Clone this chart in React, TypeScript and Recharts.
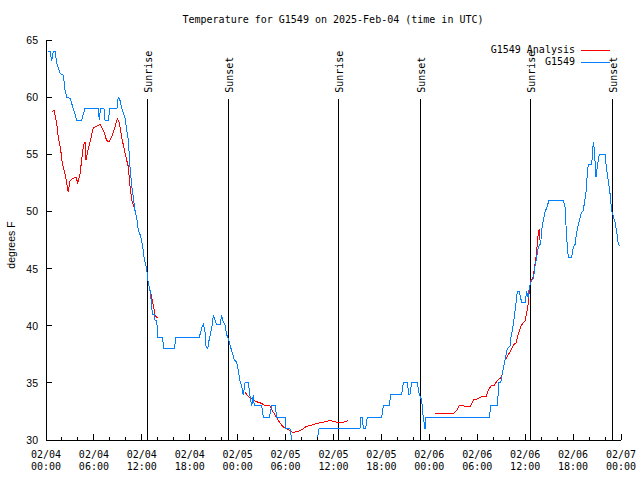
import { LineChart, Line, XAxis, YAxis, ReferenceLine, Legend, Customized } from 'recharts';

const MONO = '"DejaVu Sans Mono", "Liberation Mono", monospace';
const SANS = '"Liberation Sans", Arial, sans-serif';

// hours since 2025-02-04 00:00 UTC
const blueHours = [
  0.29, 0.5, 0.71, 0.91, 1.13, 1.34, 1.75, 2.17, 2.38, 2.59, 3.01, 3.42, 3.84, 4.47, 4.88, 6.55, 6.67, 6.82,
  7.26, 7.39, 7.8, 8.01, 8.89, 9.05, 9.27, 9.48, 9.89, 10.31, 10.52, 10.73, 10.93, 11.14, 11.36, 11.56, 11.86,
  12.11, 12.27, 12.52, 12.68, 12.81, 13.02, 13.24, 13.31, 13.56, 13.65, 13.86, 13.94, 13.99, 14.56, 14.78,
  16.07, 16.28, 19.2, 19.5, 19.7, 19.91, 20.04, 20.25, 20.41, 20.75, 20.95, 21.16, 21.38, 21.79, 22.0, 22.2,
  22.41, 22.63, 22.83, 23.17, 23.45, 23.58, 23.88, 24.08, 24.29, 24.51, 24.71, 24.92, 25.33, 25.54, 25.76,
  25.96, 26.08, 27.01, 27.21, 27.96, 28.26, 28.68, 28.89, 29.93, 30.05, 30.55, 30.77, 30.93, 33.93, 34.1,
  34.22, 39.32, 39.41, 39.61, 39.73, 40.03, 40.23, 42.04, 42.24, 42.99, 43.16, 44.54, 44.74, 45.24, 45.45,
  45.58, 45.79, 46.49, 46.74, 47.04, 47.25, 47.46, 47.58, 55.51, 55.69, 56.51, 56.72, 56.94, 57.19, 57.48,
  57.76, 58.1, 58.23, 58.52, 58.64, 58.85, 59.02, 59.27, 59.57, 59.98, 60.19, 60.39, 60.52, 60.69, 60.82,
  61.02, 61.23, 61.44, 61.65, 61.95, 62.07, 62.27, 62.49, 62.7, 62.99, 64.78, 64.99, 65.12, 65.28, 65.4,
  65.83, 66.03, 66.24, 66.46, 66.74, 66.99, 67.28, 67.62, 67.78, 67.91, 68.33, 68.46, 68.53, 68.66, 68.87,
  69.03, 69.29, 70.0, 70.21, 70.41, 70.62, 70.84, 71.25, 71.46, 71.67, 71.88,
];
const blueTemps = [
  64, 64, 63.2, 64, 64, 63, 62.1, 61.9, 60.6, 60, 59.9, 59, 58, 58, 59, 59, 58, 59,
  59, 58, 58, 59, 59, 60, 59.7, 59, 58.2, 56.2, 53.9, 52.2, 51.3, 50.1, 49.4, 48.4, 47.8,
  46.9, 46, 45.2, 44.6, 43.7, 43.1, 41.8, 41, 41, 40.5, 40.5, 39.6, 39, 39, 38,
  38, 39, 39, 39.8, 40.1, 39.5, 38.2, 38, 38.7, 39.8, 40.9, 40.5, 40.1, 40.1, 40.9, 40.3,
  40.1, 39.2, 38.9, 38, 37.4, 37, 36.8, 36.1, 35.2, 34.7, 33.9, 35, 35, 33.9, 33,
  33.9, 33, 33, 32, 32, 33, 33, 32, 32, 31, 31, 30.1, 29, 29, 30.9,
  31, 31, 32, 32, 31, 31, 32, 32, 33, 33, 34, 34, 35, 35, 34,
  34, 35, 35, 34, 33.5, 31.9, 31, 32, 32, 33, 33, 35, 35, 36, 37,
  38, 38.2, 39, 40.1, 40.8, 42, 43, 43, 42, 42, 43, 42.4, 43.4, 43.7, 44,
  44.1, 45.2, 46, 46.9, 47.2, 48.4, 49.2, 50, 50.3, 51, 51, 50.4, 48.7, 46.9, 46,
  46, 46.9, 47.1, 48.2, 49.1, 49.8, 50.1, 51.7, 53.3, 54.1, 54.1, 55.4, 56.1, 55.4, 53,
  53.9, 55, 55, 53.6, 52.7, 51.6, 50, 49.1, 48.2, 47.1, 47,
];

// analysis series, null = gap
const redHours = [
  0.79, 1.0, 1.34, 1.54, 1.84, 2.04, 2.38, 2.79, 3.01, 3.42, 3.76, 3.97, 4.26, 4.47, 4.67, 4.88, 5.01, 5.3,
  5.72, 5.92, 6.76, 7.18, 7.6, 7.89, 8.23, 8.64, 8.93, 9.18, 9.48, 9.89, 10.31, 10.52, 10.73, 11.14, 11.36,
  11.56, 11.86, 12.11, 12.27, 12.52, 12.68, 12.81, 13.02, 13.24, 13.44, 13.65, 13.94,
  19.0,
  24.92, 25.33, 25.76, 26.17, 26.58, 27.01, 27.42, 28.05, 28.39, 28.68, 29.09, 29.51, 29.8, 30.34, 30.77,
  31.18, 31.81, 32.22, 32.64, 33.27, 33.68, 34.31, 34.94, 35.56, 36.19, 36.6, 37.03, 37.44, 37.85,
  43.0,
  48.71, 51.0, 51.43, 51.75, 52.25, 52.68, 53.09, 53.51, 54.01, 54.56, 55.1, 55.39, 55.81, 56.14, 56.51,
  56.85, 57.06, 57.27, 57.48, 57.76, 58.1, 58.52, 58.85, 59.14, 59.44, 59.69, 59.98, 60.19, 60.39, 60.52,
  60.69, 60.95, 61.15, 61.36, 61.52, 61.65, 61.77, 61.86, 61.98,
];
const redTemps = [
  58.7, 58.9, 57.7, 56.5, 55.4, 54.2, 53.3, 51.7, 52.7, 52.9, 53.0, 52.5, 53.3, 54.5, 55.7, 56.1, 54.5, 55.5,
  56.7, 57.3, 57.6, 57.1, 56.2, 56.1, 56.5, 57.4, 58.1, 57.8, 56.5, 55.1, 53.9, 52.2, 51.0, 50.1, 49.4,
  48.4, 47.8, 46.9, 46.0, 45.2, 44.6, 43.7, 43.1, 42.5, 41.8, 40.9, 40.7,
  null,
  34.2, 33.8, 33.6, 33.4, 33.3, 33.2, 33.0, 33.0, 32.5, 32.2, 31.7, 31.3, 31.1, 30.9, 30.7,
  30.7, 30.8, 31.0, 31.2, 31.3, 31.4, 31.5, 31.6, 31.7, 31.6, 31.5, 31.5, 31.6, 31.7,
  null,
  32.3, 32.3, 32.6, 33.0, 33.0, 32.9, 32.9, 33.5, 33.6, 33.8, 33.8, 34.4, 34.8, 34.8, 35.2,
  35.4, 35.5, 36.3, 37.0, 37.3, 37.7, 38.3, 38.5, 39.3, 39.9, 40.2, 40.4, 41.1, 42.0, 43.1,
  44.0, 44.1, 45.0, 46.0, 47.2, 48.1, 48.5, 47.5, 47.2,
];

const sunHours = [12.68, 22.83, 36.6, 46.87, 60.63, 70.91];
const sunLabels = ['Sunrise', 'Sunset', 'Sunrise', 'Sunset', 'Sunrise', 'Sunset'];

const xTicks = [0, 2, 4, 6, 8, 10, 12, 14, 16, 18, 20, 22, 24, 26, 28, 30, 32, 34, 36, 38, 40, 42, 44, 46, 48, 50, 52, 54, 56, 58, 60, 62, 64, 66, 68, 70, 72];
const yTicks = [30, 35, 40, 45, 50, 55, 60, 65];

const seriesNames = ['G1549 Analysis', 'G1549'];
const seriesColors = ['#ff0000', '#0080ff'];

const blueData = blueHours.map((h, i) => ({ h, t: blueTemps[i] }));
const redData = redHours.map((h, i) => ({ h, t: redTemps[i] }));

const pad = (n: number) => String(n).padStart(2, '0');
const dateLabel = (h: number) => `02/${pad(4 + Math.floor(h / 24))}`;
const timeLabel = (h: number) => `${pad(h % 24)}:00`;

function BottomTick({ x, y, payload }: any) {
  const h = payload.value as number;
  const major = h % 6 === 0;
  return (
    <g>
      <line x1={x} y1={y} x2={x} y2={y - (major ? 6 : 3)} stroke="#000" />
      {major && (
        <text textAnchor="middle" fontFamily={MONO} fontSize={10} fill="#000">
          <tspan x={x} y={y + 18}>{dateLabel(h)}</tspan>
          <tspan x={x} y={y + 30}>{timeLabel(h)}</tspan>
        </text>
      )}
    </g>
  );
}

function TopTick({ x, y, payload }: any) {
  const major = (payload.value as number) % 6 === 0;
  return <line x1={x} y1={y} x2={x} y2={y + (major ? 6 : 3)} stroke="#000" />;
}

function LeftTick({ x, y, payload }: any) {
  return (
    <g>
      <line x1={x} y1={y} x2={x + 6} y2={y} stroke="#000" />
      <text x={x - 8} y={y} textAnchor="end" dominantBaseline="central" fontFamily={SANS} fontSize={10.5} fill="#000">
        {payload.value}
      </text>
    </g>
  );
}

function RightTick({ x, y }: any) {
  return <line x1={x} y1={y} x2={x - 6} y2={y} stroke="#000" />;
}

function SunLabel({ viewBox, text }: any) {
  const cx = viewBox.x + 1;
  const cy = viewBox.y - 6;
  return (
    <text
      x={cx}
      y={cy}
      transform={`rotate(-90 ${cx} ${cy})`}
      textAnchor="start"
      dominantBaseline="central"
      fontFamily={MONO}
      fontSize={10}
      fill="#000"
    >
      {text}
    </text>
  );
}

function ChartLegend() {
  return (
    <div style={{ fontFamily: MONO, fontSize: 10, lineHeight: '12px', color: '#000' }}>
      {seriesNames.map((name, i) => (
        <div key={name} style={{ display: 'flex', justifyContent: 'flex-end', alignItems: 'center', height: 12 }}>
          <span>{name}</span>
          <span style={{ display: 'inline-block', width: 29, marginLeft: 6, borderTop: `1px solid ${seriesColors[i]}` }} />
        </div>
      ))}
    </div>
  );
}

function Titles() {
  return (
    <g>
      <text x={333} y={23} textAnchor="middle" fontFamily={MONO} fontSize={10} fill="#000">
        Temperature for G1549 on 2025-Feb-04 (time in UTC)
      </text>
      <text
        x={11}
        y={245}
        transform="rotate(-90 11 245)"
        textAnchor="middle"
        dominantBaseline="central"
        fontFamily={SANS}
        fontSize={10.5}
        fill="#000"
      >
        degrees F
      </text>
    </g>
  );
}

export default function App() {
  return (
    <div
      style={{
        position: 'absolute',
        left: 0,
        top: 0,
        width: 640,
        height: 480,
        background: '#fff',
        shapeRendering: 'crispEdges',
      }}
    >
      <LineChart width={640} height={480} margin={{ top: 40, right: 19, bottom: 0, left: 0 }}>
        <XAxis
          dataKey="h"
          type="number"
          domain={[0, 72]}
          ticks={xTicks}
          interval={0}
          allowDataOverflow
          height={40}
          tickSize={0}
          tickMargin={0}
          tickLine={false}
          axisLine={{ stroke: '#000' }}
          tick={(p: any) => <BottomTick {...p} />}
        />
        <XAxis
          xAxisId="top"
          orientation="top"
          type="number"
          domain={[0, 72]}
          ticks={xTicks}
          interval={0}
          allowDataOverflow
          height={0}
          tickSize={0}
          tickMargin={0}
          tickLine={false}
          axisLine={{ stroke: '#000' }}
          tick={(p: any) => <TopTick {...p} />}
        />
        <YAxis
          type="number"
          domain={[30, 65]}
          ticks={yTicks}
          interval={0}
          allowDataOverflow
          width={46}
          tickSize={0}
          tickMargin={0}
          tickLine={false}
          axisLine={{ stroke: '#000' }}
          tick={(p: any) => <LeftTick {...p} />}
        />
        <YAxis
          yAxisId="right"
          orientation="right"
          type="number"
          domain={[30, 65]}
          ticks={yTicks}
          interval={0}
          allowDataOverflow
          width={0}
          tickSize={0}
          tickMargin={0}
          tickLine={false}
          axisLine={{ stroke: '#000' }}
          tick={(p: any) => <RightTick {...p} />}
        />
        {sunHours.map((h, i) => (
          <ReferenceLine
            key={`sun-${i}`}
            segment={[{ x: h, y: 30 }, { x: h, y: 59.85 }]}
            stroke="#000"
            strokeWidth={1}
            label={(p: any) => <SunLabel {...p} text={sunLabels[i]} />}
          />
        ))}
        <Line
          data={redData}
          dataKey="t"
          name={seriesNames[0]}
          stroke={seriesColors[0]}
          strokeWidth={1}
          dot={false}
          activeDot={false}
          isAnimationActive={false}
        />
        <Line
          data={blueData}
          dataKey="t"
          name={seriesNames[1]}
          stroke={seriesColors[1]}
          strokeWidth={1}
          dot={false}
          activeDot={false}
          isAnimationActive={false}
        />
        <Legend
          layout="horizontal"
          verticalAlign="middle"
          align="center"
          wrapperStyle={{ top: 44, right: 30, left: 'auto', bottom: 'auto', width: 'auto' }}
          content={() => <ChartLegend />}
        />
        <Customized component={Titles} />
      </LineChart>
    </div>
  );
}
